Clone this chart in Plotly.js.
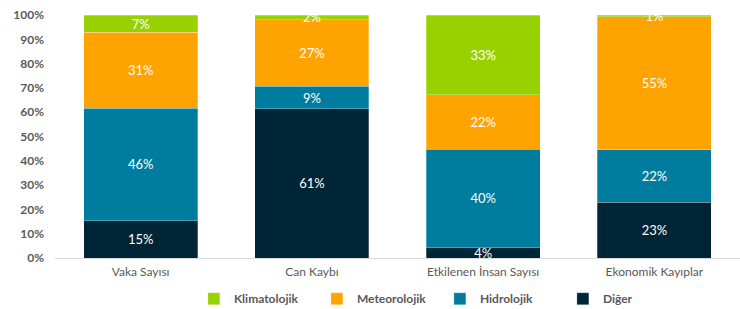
<!DOCTYPE html>
<html>
<head>
<meta charset="utf-8">
<script src="https://cdn.plot.ly/plotly-3.0.1.min.js"></script>
<style>html,body{margin:0;padding:0;background:#fff;}#chart{width:740px;height:309px;}</style>
</head>
<body>
<div id="chart"></div>
<script>
const categories = ["Vaka Sayısı", "Can Kaybı", "Etkilenen İnsan Sayısı", "Ekonomik Kayıplar"];
const diger = [15.4, 61.4, 4.4, 23.0];
const hidrolojik = [46.3, 9.3, 40.4, 21.6];
const meteorolojik = [31.3, 27.4, 22.3, 54.6];
const klimatolojik = [7.0, 1.9, 32.9, 0.8];
const yTicks = [0, 10, 20, 30, 40, 50, 60, 70, 80, 90, 100];
const yTickLabels = yTicks.map(v => v + "%");

const FONT = "Lato, 'Open Sans', sans-serif";
function series(name, values, color) {
  return {
    type: "bar", name: name, x: categories, y: values,
    marker: {color: color, line: {color: "rgba(255,255,255,0.35)", width: 0.8}},
    text: values.map(v => Math.round(v) + "%"),
    textposition: "inside", insidetextanchor: "middle", constraintext: "none",
    textfont: {color: "#ffffff", size: 13, family: FONT},
    hoverinfo: "skip"
  };
}
const data = [
  series("Diğer", diger, "#002536"),
  series("Hidrolojik", hidrolojik, "#007D9E"),
  series("Meteorolojik", meteorolojik, "#FFA300"),
  series("Klimatolojik", klimatolojik, "#97D200")
];
const layout = {
  width: 740, height: 309,
  margin: {l: 55, r: 0, t: 15, b: 51, autoexpand: false},
  barmode: "stack", bargap: 0.333,
  paper_bgcolor: "#fff", plot_bgcolor: "#fff",
  font: {family: FONT, color: "#595959", size: 12},
  xaxis: {
    showgrid: false, zeroline: false, showline: true, linecolor: "#d9d9d9", linewidth: 1,
    ticks: "", ticklabelstandoff: 3, tickfont: {size: 12, color: "#595959", family: FONT}
  },
  yaxis: {
    range: [0, 100], tickvals: yTicks, ticktext: yTickLabels,
    showgrid: false, zeroline: false, showline: false, ticks: "",
    ticklabelstandoff: 10,
    tickfont: {size: 12, color: "#595959", family: FONT, weight: "bold"}
  },
  showlegend: true,
  legend: {
    orientation: "h", traceorder: "reversed",
    xref: "container", yref: "container",
    x: 0.262, xanchor: "left", y: 0.033, yanchor: "middle",
    font: {size: 12, color: "#595959", family: FONT, weight: "bold"},
    itemwidth: 30, tracegroupgap: 0,
    entrywidth: 78, entrywidthmode: "pixels"
  }
};
Plotly.newPlot("chart", data, layout, {displayModeBar: false, staticPlot: true});
</script>
</body>
</html>
